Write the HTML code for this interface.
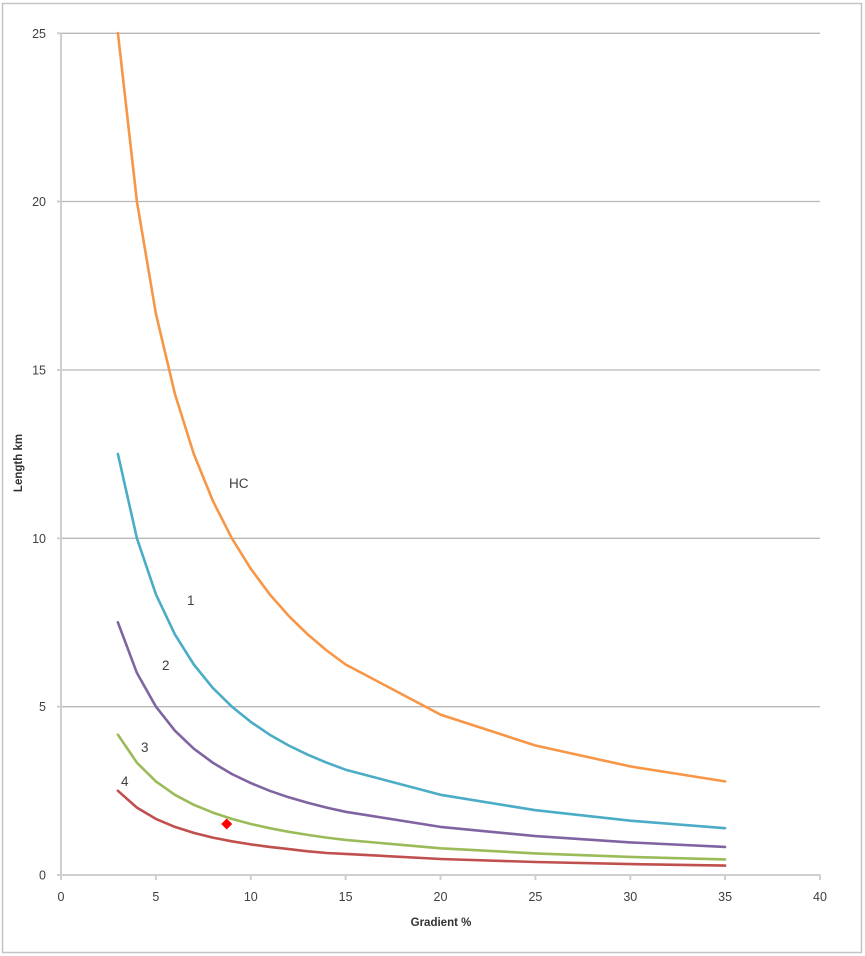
<!DOCTYPE html>
<html><head><meta charset="utf-8"><style>
html,body{margin:0;padding:0;background:#fff;}
svg{display:block;}
text{font-family:"Liberation Sans",sans-serif;fill:#404040;}
</style></head><body>
<svg width="865" height="956" viewBox="0 0 865 956" xmlns="http://www.w3.org/2000/svg">
<rect x="0" y="0" width="865" height="956" fill="#fff"/>
<rect x="2.5" y="3.5" width="859" height="949" fill="none" stroke="#c4c4c4" stroke-width="1.5"/>
<g stroke="#b8b8b8" stroke-width="1.3">
<line x1="61" y1="33.3" x2="820" y2="33.3"/>
<line x1="61" y1="201.5" x2="820" y2="201.5"/>
<line x1="61" y1="370" x2="820" y2="370"/>
<line x1="61" y1="538.3" x2="820" y2="538.3"/>
<line x1="61" y1="706.7" x2="820" y2="706.7"/>
</g>
<g stroke="#cfcfcf" stroke-width="2">
<line x1="61" y1="33" x2="61" y2="876"/>
<line x1="57" y1="875" x2="820.5" y2="875"/>
<line x1="57" y1="33.3" x2="61" y2="33.3"/>
<line x1="57" y1="201.5" x2="61" y2="201.5"/>
<line x1="57" y1="370" x2="61" y2="370"/>
<line x1="57" y1="538.3" x2="61" y2="538.3"/>
<line x1="57" y1="706.7" x2="61" y2="706.7"/>
<line x1="61" y1="875" x2="61" y2="880"/>
<line x1="155.9" y1="875" x2="155.9" y2="880"/>
<line x1="250.8" y1="875" x2="250.8" y2="880"/>
<line x1="345.6" y1="875" x2="345.6" y2="880"/>
<line x1="440.5" y1="875" x2="440.5" y2="880"/>
<line x1="535.4" y1="875" x2="535.4" y2="880"/>
<line x1="630.3" y1="875" x2="630.3" y2="880"/>
<line x1="725.1" y1="875" x2="725.1" y2="880"/>
<line x1="820" y1="875" x2="820" y2="880"/>
</g>
<g font-size="12.5" text-anchor="end">
<text x="46" y="38">25</text>
<text x="46" y="206">20</text>
<text x="46" y="374.5">15</text>
<text x="46" y="543">10</text>
<text x="46" y="711">5</text>
<text x="46" y="879.5">0</text>
</g>
<g font-size="12.5" text-anchor="middle">
<text x="61" y="901">0</text>
<text x="155.9" y="901">5</text>
<text x="250.8" y="901">10</text>
<text x="345.6" y="901">15</text>
<text x="440.5" y="901">20</text>
<text x="535.4" y="901">25</text>
<text x="630.3" y="901">30</text>
<text x="725.1" y="901">35</text>
<text x="820" y="901">40</text>
</g>
<text x="441" y="926" font-size="11.5" font-weight="bold" text-anchor="middle" style="fill:#333">Gradient %</text>
<text transform="translate(22,463) rotate(-90)" font-size="11.5" font-weight="bold" text-anchor="middle" style="fill:#333">Length km</text>
<g fill="none" stroke-width="2.6" stroke-linejoin="round" stroke-linecap="round">
<polyline stroke="#F79646" points="117.9,33 136.9,201.4 155.9,313.7 174.9,393.9 193.8,454 212.8,500.8 231.8,538.2 250.8,568.8 269.7,594.3 288.7,615.9 307.7,634.4 326.7,650.5 345.6,664.5 440.5,714.6 535.4,745.5 630.3,766.4 725.1,781.4"/>
<polyline stroke="#4BACC6" points="117.9,454 136.9,538.2 155.9,594.3 174.9,634.4 193.8,664.5 212.8,687.9 231.8,706.6 250.8,721.9 269.7,734.7 288.7,745.5 307.7,754.7 326.7,762.7 345.6,769.7 440.5,794.8 535.4,810.2 630.3,820.7 725.1,828.2"/>
<polyline stroke="#8064A2" points="117.9,622.4 136.9,672.9 155.9,706.6 174.9,730.7 193.8,748.7 212.8,762.7 231.8,774 250.8,783.1 269.7,790.8 288.7,797.3 307.7,802.8 326.7,807.6 345.6,811.8 440.5,826.9 535.4,836.1 630.3,842.4 725.1,846.9"/>
<polyline stroke="#9BBB59" points="117.9,734.7 136.9,762.7 155.9,781.4 174.9,794.8 193.8,804.8 212.8,812.6 231.8,818.9 250.8,824 269.7,828.2 288.7,831.8 307.7,834.9 326.7,837.6 345.6,839.9 440.5,848.3 535.4,853.4 630.3,856.9 725.1,859.4"/>
<polyline stroke="#C0504D" points="117.9,790.8 136.9,807.6 155.9,818.9 174.9,826.9 193.8,832.9 212.8,837.6 231.8,841.3 250.8,844.4 269.7,846.9 288.7,849.1 307.7,851.3 326.7,853 345.6,853.9 440.5,859 535.4,862 630.3,864.1 725.1,865.6"/>
</g>
<polygon points="226.7,818.5 232.2,824 226.7,829.5 221.2,824" fill="#FF0000"/>
<g font-size="13.5" style="fill:#333">
<text x="229" y="488">HC</text>
<text x="187" y="605">1</text>
<text x="162" y="670">2</text>
<text x="141" y="752">3</text>
<text x="121" y="786">4</text>
</g>
</svg>
</body></html>
